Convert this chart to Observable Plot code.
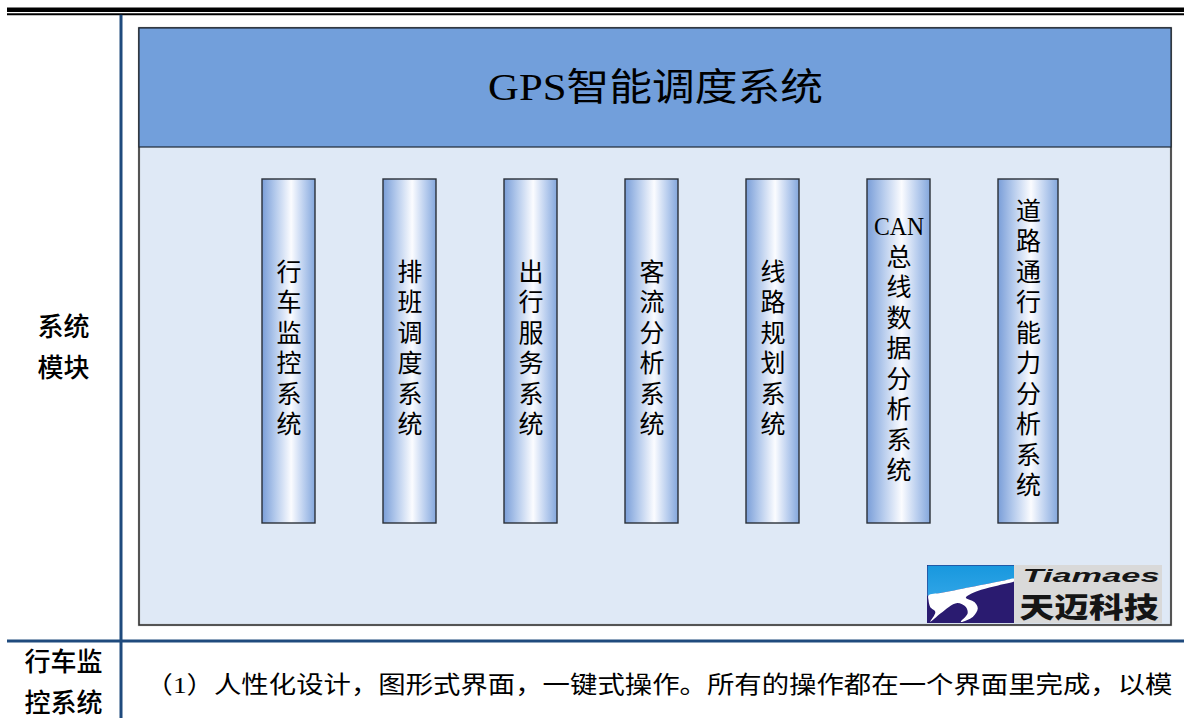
<!DOCTYPE html>
<html><head><meta charset="utf-8">
<script src="https://cdn.jsdelivr.net/npm/d3@7"></script>
<script src="https://cdn.jsdelivr.net/npm/@observablehq/plot@0.6"></script>
<style>html,body{margin:0;padding:0;background:#fff}svg{display:block}</style>
</head><body><div id="chart"></div>
<script>
// ---------------- data ----------------
const title = "GPS智能调度系统";
const modules = ["行车监控系统", "排班调度系统", "出行服务系统", "客流分析系统", "线路规划系统", "CAN总线数据分析系统", "道路通行能力分析系统"];
const sectionLabels = ["系统模块", "行车监控系统"];
const paragraph = "（1）人性化设计，图形式界面，一键式操作。所有的操作都在一个界面里完成，以模";
const logoName = "Tiamaes";
const logoCn = "天迈科技";

// ---------------- layout (code, not data) ----------------
const W = 1184, H = 718;
const box = {x1: 139, x2: 1171, y1: 28, y2: 625, headerY: 147};
const pillarTop = 179, pillarBottom = 523, pillarGap = 68, firstLeft = 262;
const tokenize = s => s.match(/[A-Za-z0-9]+|./gu);
let cursor = firstLeft;
const pillars = modules.map((name) => {
  const tokens = tokenize(name);
  const latin = tokens.some(t => /[A-Za-z]/.test(t));
  const w = 53 + (latin ? 10 : 0) + (tokens.length >= 10 ? 7 : 0);
  const p = {name, tokens, x1: cursor, x2: cursor + w, y1: pillarTop, y2: pillarBottom};
  cursor += w + pillarGap;
  return p;
});
const lineStep = 30.5, textCenter = 348.5;
const pillarChars = pillars.flatMap(p => p.tokens.map((t, k) => ({
  text: t, latin: /[A-Za-z]/.test(t), x: (p.x1 + p.x2) / 2, y: textCenter + (k - (p.tokens.length - 1) / 2) * lineStep
})));
const sectionCenters = [347.5, 682.5];
const sectionLines = sectionLabels.flatMap((s, i) => {
  const h = Math.ceil(s.length / 2);
  return [s.slice(0, h), s.slice(h)].map((t, k) => ({text: t, x: 63, y: sectionCenters[i] + (k - 0.5) * 41}));
});
// logo geometry
const logo = {x1: 927, xm: 1014, x2: 1162, y1: 565, y2: 623};
const mapL = ([u, v]) => ({x: logo.x1 + u * (logo.xm - logo.x1), y: logo.y1 + v * (logo.y2 - logo.y1)});
const skyShape = [[0,0],[1,0],[1,0.229],[0.852,0.269],[0.695,0.314],[0.5,0.371],[0.305,0.429],[0.148,0.474],[0,0.52]].map(mapL);
const swooshShape = [[0.012,0.514],[0.148,0.474],[0.305,0.429],[0.5,0.371],[0.695,0.314],[0.852,0.269],[1,0.229],[1,0.269],[0.8125,0.343],[0.617,0.417],[0.5,0.486],[0.441,0.554],[0.539,0.629],[0.578,0.743],[0.52,0.886],[0.383,0.971],[0.461,0.829],[0.441,0.714],[0.344,0.646],[0.246,0.714],[0.148,0.829],[0.031,0.971],[0.09,0.8],[0.031,0.714],[0.012,0.6]].map(mapL);

const serif = '"Liberation Serif","Noto Sans CJK SC",serif';
const cjk = '"Noto Sans CJK SC",sans-serif';
const tableBlue = "#1f4a7d";

const chart = Plot.plot({
  width: W, height: H, margin: 0,
  x: {domain: [0, W], range: [0, W], axis: null},
  y: {domain: [0, H], range: [0, H], axis: null},
  style: {background: "white"},
  marks: [
    // document rules
    Plot.ruleY([9.3], {x1: 7, x2: W, stroke: "black", strokeWidth: 4.6}),
    Plot.ruleY([13.7], {x1: 7, x2: W, stroke: "black", strokeWidth: 2}),
    Plot.ruleX([120.5], {y1: 14.7, y2: H, stroke: tableBlue, strokeWidth: 3}),
    Plot.ruleY([640.5], {x1: 7, x2: W, stroke: tableBlue, strokeWidth: 3}),
    // diagram box
    Plot.rect([box], {x1: "x1", x2: "x2", y1: "y1", y2: "y2", fill: "#dfe9f6", stroke: "#8a8a8a", strokeWidth: 2.2}),
    Plot.rect([box], {x1: "x1", x2: "x2", y1: "y1", y2: "y2", fill: "none", stroke: "#1e1e1e", strokeWidth: 1}),
    Plot.rect([box], {x1: "x1", x2: "x2", y1: "y1", y2: "headerY", fill: "#729fdb", stroke: "#1e2835", strokeWidth: 1.2}),
    Plot.text([title], {x: (box.x1 + box.x2) / 2, y: 87, text: d => d, fontFamily: serif, fontSize: 38, fill: "#000"}),
    // pillars
    Plot.rect(pillars, {x1: "x1", x2: "x2", y1: "y1", y2: "y2", fill: "url(#pillarGrad)", stroke: "#2a2f38", strokeWidth: 1.4}),
    Plot.text(pillarChars.filter(d => !d.latin), {x: "x", y: "y", text: "text", fontFamily: serif, fontSize: 25, fill: "#000"}),
    Plot.text(pillarChars.filter(d => d.latin), {x: "x", y: "y", text: "text", fontFamily: serif, fontSize: 25, fill: "#000"}),
    // section labels and body text
    Plot.text(sectionLines, {x: "x", y: "y", text: "text", fontFamily: cjk, fontSize: 26, fontWeight: 500, fill: "#000"}),
    Plot.text([paragraph], {x: 145, y: 685, text: d => d, textAnchor: "start", fontFamily: serif, fontSize: 24, fill: "#000"}),
    // logo
    Plot.rect([logo], {x1: "x1", x2: "xm", y1: "y1", y2: "y2", fill: "#2a1b70"}),
    Plot.line(skyShape, {x: "x", y: "y", fill: "url(#skyGrad)", stroke: "none"}),
    Plot.line(swooshShape, {x: "x", y: "y", fill: "white", stroke: "none", curve: "catmull-rom-closed"}),
    Plot.rect([logo], {x1: "xm", x2: "x2", y1: "y1", y2: "y2", fill: "#d9d9d9"}),
    Plot.text([logoName], {x: 1022, y: 575.5, text: d => d, textAnchor: "start", fontFamily: '"Liberation Sans",Arial,sans-serif', fontStyle: "italic", fontWeight: "bold", fontSize: 18, fill: "#151515"}),
    Plot.text([logoCn], {x: 1019, y: 609, text: d => d, textAnchor: "start", fontFamily: cjk, fontWeight: 900, fontSize: 28, fill: "#151515"})
  ]
});

// gradients
const defs = d3.select(chart).insert("defs", ":first-child");
const pg = defs.append("linearGradient").attr("id", "pillarGrad").attr("x1", "0").attr("x2", "1").attr("y1", "0").attr("y2", "0");
[[0, "#7a9ed8"], [0.25, "#b4caec"], [0.55, "#fbfcff"], [0.8, "#b8cdee"], [1, "#84a7dc"]].forEach(([o, c]) => pg.append("stop").attr("offset", o).attr("stop-color", c));
const sg = defs.append("linearGradient").attr("id", "skyGrad").attr("x1", "0").attr("x2", "0").attr("y1", "0").attr("y2", "1");
[[0, "#1898de"], [1, "#2fa4e6"]].forEach(([o, c]) => sg.append("stop").attr("offset", o).attr("stop-color", c));

// stretch justified lines
const fit = {[paragraph]: 1027, [logoName]: 137, [logoCn]: 139, [title]: 335, "CAN": 50};
d3.select(chart).selectAll("text").each(function () {
  const t = this.textContent;
  if (fit[t]) d3.select(this).attr("textLength", fit[t]).attr("lengthAdjust", "spacingAndGlyphs");
});

document.getElementById("chart").append(chart);
</script>
</body></html>
